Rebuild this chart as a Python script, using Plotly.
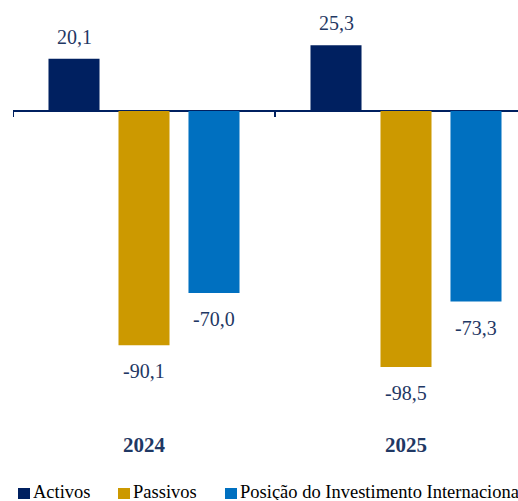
import plotly.graph_objects as go

categories = ["2024", "2025"]
series_names = ["Activos", "Passivos", "Posição do Investimento Internacional"]
activos = [20.1, 25.3]
passivos = [-90.1, -98.5]
pii = [-70.0, -73.3]
colors = ["#002060", "#CC9900", "#0070C0"]
label_color = "#1F3864"
FONT = "Liberation Serif"

series = [activos, passivos, pii]
bargap = 0.1985
bargroupgap = 0.271

fig = go.Figure()
for name, vals, col in zip(series_names, series, colors):
    fig.add_trace(go.Bar(x=categories, y=vals, name=name, marker_color=col,
                         marker_line_width=0, showlegend=False, hoverinfo="skip"))

slot = (1 - bargap) / len(series)
annotations = []
for k, vals in enumerate(series):
    for i, v in enumerate(vals):
        annotations.append(dict(
            x=i + (k - 1) * slot, y=v, xref="x", yref="y",
            text=f"{v:.1f}".replace(".", ","), showarrow=False,
            yanchor="middle", yshift=22 if v >= 0 else -26,
            font=dict(family=FONT, size=20, color=label_color)))

# legend drawn manually (squares + text), cropped at right like the original
leg_sq_x = [18, 118, 225]
leg_tx_x = [31, 131, 238]
W, L, T, B = 518, 13, 5, 71
H = 501
pw = W - L
ph = H - T - B
def px2paper_x(px):
    return (px - L) / pw
def px2paper_y(py):
    return (H - B - py) / ph

shapes = []
for sx, col in zip(leg_sq_x, colors):
    shapes.append(dict(type="rect", xref="paper", yref="paper",
                       x0=px2paper_x(sx), x1=px2paper_x(sx + 12),
                       y0=px2paper_y(499), y1=px2paper_y(488),
                       fillcolor=col, line_width=0))
for tx, name in zip(leg_tx_x, series_names):
    annotations.append(dict(x=px2paper_x(tx), y=px2paper_y(492), xref="paper", yref="paper",
                            xanchor="left", yanchor="middle", showarrow=False, text=name,
                            height=16, valign="middle",
                            font=dict(family=FONT, size=18.5, color="#000000")))

# tick marks at category boundaries on the zero line
for b in [-0.5, 0.5, 1.5]:
    shapes.append(dict(type="line", xref="x", yref="y", ysizemode="pixel", yanchor=0,
                       x0=b, x1=b, y0=0, y1=-6, line=dict(color="#002060", width=2)))

ymax = (111 - T) / 2.6
ymin = -(H - B - 111) / 2.6

fig.update_layout(
    width=W, height=H,
    margin=dict(l=L, r=0, t=T, b=B),
    paper_bgcolor="white", plot_bgcolor="white",
    barmode="group", bargap=bargap, bargroupgap=bargroupgap,
    showlegend=False,
    xaxis=dict(range=[-0.5, -0.5 + pw / 262], showline=False, ticks="", showgrid=False,
               tickfont=dict(family=FONT, size=21, color=label_color), ticklabelstandoff=0,
               tickprefix="<b>", ticksuffix="</b>"),
    yaxis=dict(range=[ymin, ymax], visible=True, showticklabels=False, showgrid=False,
               zeroline=True, zerolinecolor="#002060", zerolinewidth=2, ticks="", showline=False),
    annotations=annotations, shapes=shapes,
)

fig.write_html("out.html", config={"displayModeBar": False},
               post_script="document.body.style.margin='0';document.body.style.overflow='hidden';")
